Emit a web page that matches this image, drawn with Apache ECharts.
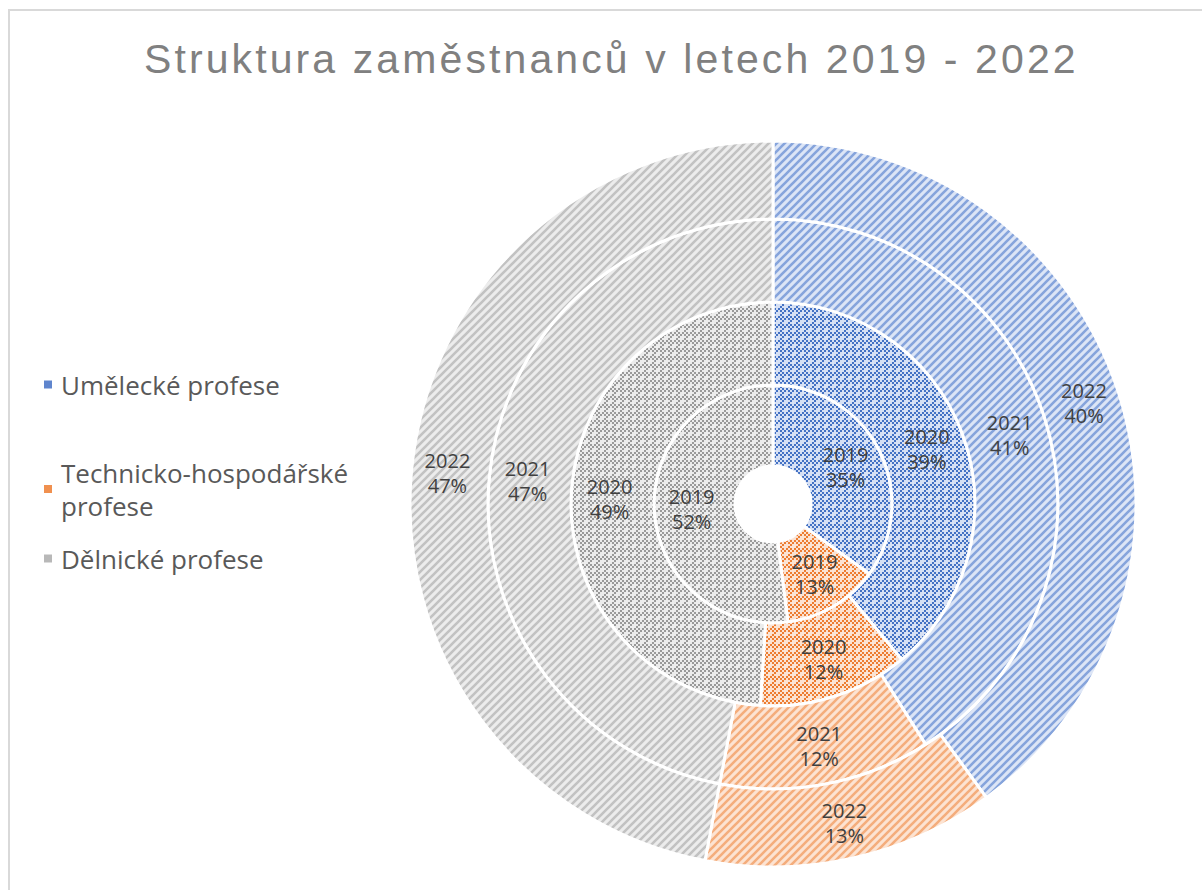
<!DOCTYPE html>
<html>
<head>
<meta charset="utf-8">
<title>Struktura zaměstnanců</title>
<script src="https://cdn.jsdelivr.net/npm/echarts@6/dist/echarts.min.js"></script>
<style>
	html, body { margin: 0; padding: 0; background: #fff; }
	#chart { width: 1202px; height: 890px; }
	/* title is letter-spaced in the original */
	#chart text[style*="41px"] { letter-spacing: 3.1px; }
</style>
</head>
<body>
<div id="chart"></div>
<script>
// data
const years = ['2019', '2020', '2021', '2022'];
const categories = ['Umělecké profese', 'Technicko-hospodářské profese', 'Dělnické profese'];
const share2019 = [35, 13, 52];
const share2020 = [39, 12, 49];
const share2021 = [41, 12, 47];
const share2022 = [40, 13, 47];
const shares = [share2019, share2020, share2021, share2022];

// hatched fills (inner rings dotted, outer rings striped)
const makeDotted = (bg, fg) => {
	const c = document.createElement('canvas');
	c.width = 8; c.height = 8;
	const ctx = c.getContext('2d');
	ctx.fillStyle = bg;
	ctx.fillRect(0, 0, 8, 8);
	ctx.fillStyle = fg;
	[[0, 6], [2, 4], [4, 2], [6, 0], [4, 6], [6, 4]].forEach(([x, y]) => ctx.fillRect(x, y, 2, 2));
	return { image: c, repeat: 'repeat' };
};
const makeStriped = (bg, fg) => {
	const c = document.createElement('canvas');
	c.width = 8; c.height = 8;
	const ctx = c.getContext('2d');
	ctx.fillStyle = bg;
	ctx.fillRect(0, 0, 8, 8);
	ctx.strokeStyle = fg;
	ctx.lineWidth = 2.6;
	ctx.beginPath();
	ctx.moveTo(-2, 10); ctx.lineTo(10, -2);
	ctx.moveTo(-6, 6); ctx.lineTo(6, -6);
	ctx.moveTo(2, 14); ctx.lineTo(14, 2);
	ctx.stroke();
	return { image: c, repeat: 'repeat' };
};

const fills = [
	[makeDotted('#d6e0f4', '#4472c4'), makeStriped('#dce5f6', '#86a4dc')],
	[makeDotted('#fbe3d3', '#ed7d31'), makeStriped('#fce3d2', '#f4ad7c')],
	[makeDotted('#ececec', '#9a9a9a'), makeStriped('#ececec', '#c2c2c2')],
];
const legendColors = ['#5f85cd', '#f0904f', '#b8b8b8'];
const ringRadii = [[38, 119], [119, 202], [202, 285], [285, 363]];

const chart = echarts.init(document.getElementById('chart'), null, { renderer: 'svg' });

const legendBase = {
	orient: 'vertical',
	left: 37,
	icon: 'rect',
	itemWidth: 10,
	itemHeight: 10,
	selectedMode: false,
	textStyle: {
		fontSize: 26,
		color: '#595959',
		fontFamily: 'Open Sans, Liberation Sans, sans-serif',
		lineHeight: 33,
		padding: [0, 0, 0, 3],
	},
};
const legendItem = (j) => ({ name: categories[j], itemStyle: { color: legendColors[j] } });

chart.setOption({
	animation: false,
	title: {
		text: 'Struktura zaměstnanců v letech 2019 - 2022',
		left: 139,
		top: 33,
		textStyle: {
			fontSize: 41,
			fontWeight: 'normal',
			color: '#808080',
			fontFamily: 'Liberation Sans, Arial, sans-serif',
		},
	},
	graphic: [{
		type: 'rect',
		shape: { x: 9, y: 10, width: 1300, height: 1000 },
		style: { fill: 'none', stroke: '#d9d9d9', lineWidth: 2 },
		silent: true,
	}],
	legend: [
		{ ...legendBase, top: 363, data: [legendItem(0)] },
		{ ...legendBase, top: 451, data: [legendItem(1)], formatter: (n) => n.replace(' profese', '\nprofese') },
		{ ...legendBase, top: 537, data: [legendItem(2)] },
	],
	series: years.map((y, i) => ({
		name: y,
		type: 'pie',
		center: [773, 504],
		radius: ringRadii[i],
		startAngle: 90,
		clockwise: true,
		avoidLabelOverlap: false,
		label: {
			show: true,
			position: 'inside',
			formatter: '{a}\n{c}%',
			color: '#404040',
			fontSize: 20,
			lineHeight: 25,
			fontFamily: 'Open Sans, Liberation Sans, sans-serif',
		},
		labelLine: { show: false },
		itemStyle: { borderColor: '#fff', borderWidth: 3 },
		emphasis: { disabled: true },
		data: categories.map((c, j) => ({
			name: c,
			value: shares[i][j],
			itemStyle: { color: fills[j][i < 2 ? 0 : 1] },
		})),
	})),
});
</script>
</body>
</html>
